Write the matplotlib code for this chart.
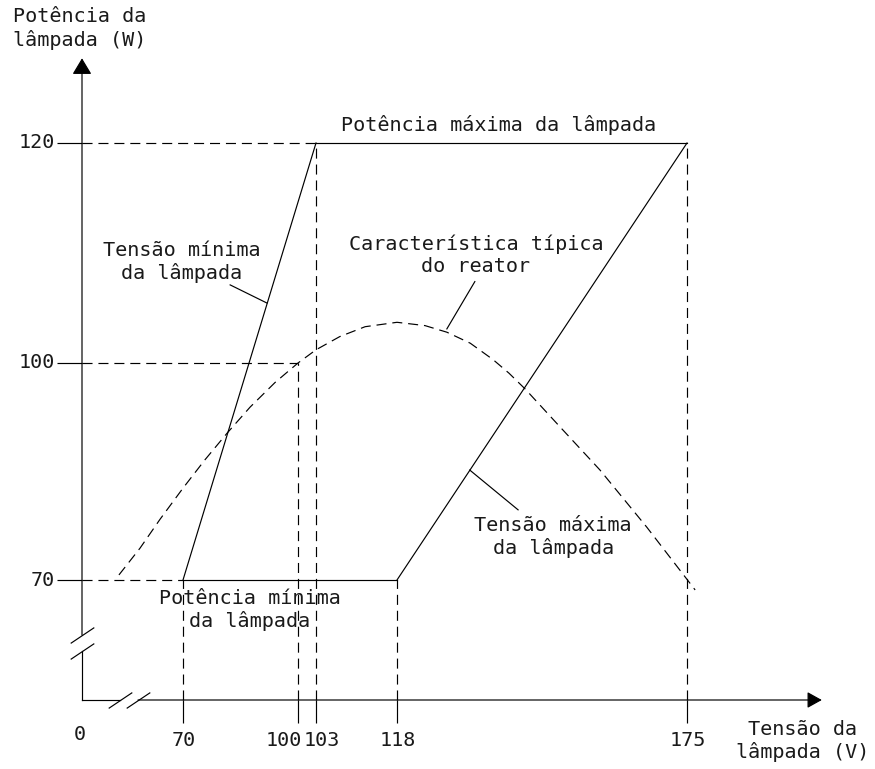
import numpy as np
import matplotlib
matplotlib.use("Agg")
import matplotlib.pyplot as plt
from matplotlib.transforms import offset_copy

plt.rcParams['font.family'] = ['DejaVu Sans Mono', 'DejaVu Sans']
plt.rcParams['font.size'] = 14.5

# values: lamp voltage (V) and lamp power (W)
volt_ticks = [70, 100, 103, 118, 175]
volt_labels = ['70', '100', '103', '118', '175']
power_ticks = [70, 100, 120]
power_labels = ['70', '100', '120']

v_min_volt = [70, 103]      # Tensão mínima da lâmpada
p_min_volt = [70, 120]
v_max_volt = [118, 175]     # Tensão máxima da lâmpada
p_max_volt = [70, 120]
v_max_pow = [103, 175]      # Potência máxima
p_max_pow = [120, 120]
v_min_pow = [70, 118]       # Potência mínima
p_min_pow = [70, 70]

# Característica típica do reator (dashed curve)
curve_v = [25.6, 40.2, 54.1, 70.0, 75.7, 81.5, 87.5, 94.0, 100, 103, 107.4,
           112.1, 118, 123.5, 127.8, 132.4, 136.9, 140.0, 143.2, 150.0, 157.9,
           167.1, 176.6]
curve_p = [70.7, 74.4, 78.4, 82.7, 86.6, 90.3, 93.9, 97.3, 100, 101.2, 102.4,
           103.3, 103.7, 103.4, 102.8, 101.8, 100.3, 98.6, 96.4, 91.2, 85.2,
           77.3, 64.2]

# dashed guide lines
guide_v = [70, 100, 103, 118, 175]
guide_v_top = [70, 100, 120, 70, 120]
guide_p = [70, 100, 120]
guide_p_end = [70, 100, 103]

# the drawing is schematic: axes are piecewise linear (pixel layout knots)
X_KNOTS = [-200, 0, 70, 100, 103, 118, 175, 400]
X_PIX = [82 - 200 * 101 / 70, 82, 183, 298, 316, 397, 687, 687 + 225 * 290 / 57]
Y_KNOTS = [-100, 0, 70, 100, 120, 300]
Y_PIX = [69 - 100 * 120 / 70, 69, 189, 406, 626, 626 + 180 * 11]


def fwd_x(v):
    return np.interp(v, X_KNOTS, X_PIX)


def inv_x(p):
    return np.interp(p, X_PIX, X_KNOTS)


def fwd_y(v):
    return np.interp(v, Y_KNOTS, Y_PIX)


def inv_y(p):
    return np.interp(p, Y_PIX, Y_KNOTS)


fig = plt.figure(figsize=(8.75, 7.69), dpi=100)
ax = fig.add_axes([0, 0, 1, 1])
ax.set_xscale('function', functions=(fwd_x, inv_x))
ax.set_yscale('function', functions=(fwd_y, inv_y))
ax.set_xlim(inv_x(0), inv_x(875))
ax.set_ylim(inv_y(0), inv_y(769))

lw = 0.85
dash = (8.5, 5)
k = 'black'
tc = '#1a1a1a'

# axes with breaks and arrows
xbrk = [26.3, 38.8]
ybrk = [28.6, 37.9]
ax.plot([0, xbrk[0]], [0, 0], color=k, lw=lw)
ax.plot([0, 0], [0, ybrk[0]], color=k, lw=lw)
arrow = dict(arrowstyle='-|>,head_length=0.5,head_width=0.3', mutation_scale=20,
             lw=lw, color=k, shrinkA=0, shrinkB=0)
ax.annotate('', xy=(0, 127.7), xytext=(0, ybrk[1]), arrowprops=arrow)
arrow_x = dict(arrow, arrowstyle='-|>,head_length=0.45,head_width=0.25')
ax.annotate('', xy=(201.5, 0), xytext=(xbrk[1], 0), arrowprops=arrow_x)
brk = [(-1, -0.67), (1, 0.67)]
ax.plot(xbrk, [0, 0], ls='none', marker=brk, ms=17, mew=lw, mec=k)
ax.plot([0, 0], ybrk, ls='none', marker=brk, ms=17, mew=lw, mec=k)

for s in ax.spines.values():
    s.set_color('none')
ax.spines['left'].set_position(('data', 0))
ax.spines['bottom'].set_position(('data', 0))
ax.set_xticks(volt_ticks)
ax.set_yticks(power_ticks)
ax.tick_params(axis='x', direction='out', length=16.5, width=lw, color=k, labelbottom=False)
ax.tick_params(axis='y', direction='out', length=18, width=lw, color=k, labelleft=False)

# tick labels
shift = {'100': -14, '103': 6}
for v, t in zip(volt_ticks, volt_labels):
    tr = offset_copy(ax.transData, fig=fig, x=shift.get(t, 1), y=-31, units='dots')
    ax.text(v, 0, t, transform=tr, ha='center', va='top', color=tc)
tr0 = offset_copy(ax.transData, fig=fig, x=-2, y=-25, units='dots')
ax.text(0, 0, '0', transform=tr0, ha='center', va='top', color=tc)
for p, t in zip(power_ticks, power_labels):
    tr = offset_copy(ax.transData, fig=fig, x=-27, y=0, units='dots')
    ax.text(0, p, t, transform=tr, ha='right', va='center', color=tc)

# dashed guides
for v, top in zip(guide_v, guide_v_top):
    ax.plot([v, v], [0, top], color=k, lw=lw, dashes=dash)
for p, end in zip(guide_p, guide_p_end):
    ax.plot([0, end], [p, p], color=k, lw=lw, dashes=dash)

# solid limits
ax.plot(v_min_volt, p_min_volt, color=k, lw=lw)
ax.plot(v_max_volt, p_max_volt, color=k, lw=lw)
ax.plot(v_max_pow, p_max_pow, color=k, lw=lw)
ax.plot(v_min_pow, p_min_pow, color=k, lw=lw)

# ballast curve
ax.plot(curve_v, curve_p, color=k, lw=lw, dashes=dash)

# leaders
ax.plot([82.3, 91.9], [107.1, 105.45], color=k, lw=lw)
ax.plot([133.3, 127.8], [107.4, 103.1], color=k, lw=lw)
ax.plot([132.3, 141.8], [85.2, 79.7], color=k, lw=lw)

# annotations
ax.text(137.9, 121.6, 'Potência máxima da lâmpada', ha='center', va='center', color=tc)
ax.text(69.3, 109.2, 'Tensão mínima\nda lâmpada', ha='center', va='center', color=tc)
ax.text(133.5, 109.8, 'Característica típica\ndo reator', ha='center', va='center', color=tc)
ax.text(148.7, 75.9, 'Tensão máxima\nda lâmpada', ha='center', va='center', color=tc)
ax.text(87.5, 52.5, 'Potência mínima\nda lâmpada', ha='center', va='center', color=tc)

fig.text(13 / 875, 1 - 28.5 / 769, 'Potência da\nlâmpada (W)', ha='left', va='center', color=tc)
fig.text(803 / 875, 1 - 741 / 769, 'Tensão da\nlâmpada (V)', ha='center', va='center', color=tc)

fig.savefig('out.png', dpi=100)
